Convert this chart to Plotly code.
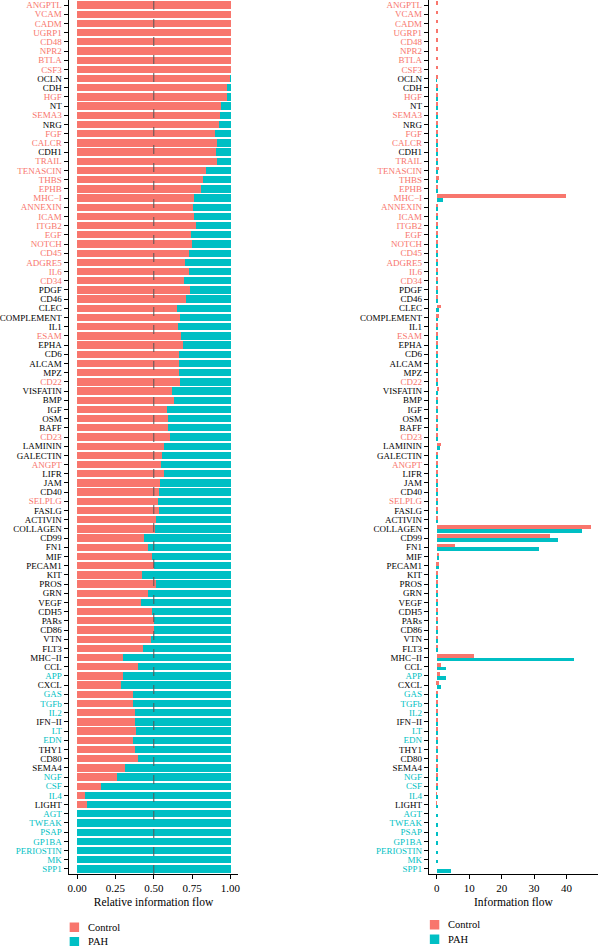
import plotly.graph_objects as go

pathways = ["ANGPTL","VCAM","CADM","UGRP1","CD48","NPR2","BTLA","CSF3","OCLN","CDH",
            "HGF","NT","SEMA3","NRG","FGF","CALCR","CDH1","TRAIL","TENASCIN","THBS",
            "EPHB","MHC\u2212I","ANNEXIN","ICAM","ITGB2","EGF","NOTCH","CD45","ADGRE5","IL6",
            "CD34","PDGF","CD46","CLEC","COMPLEMENT","IL1","ESAM","EPHA","CD6","ALCAM",
            "MPZ","CD22","VISFATIN","BMP","IGF","OSM","BAFF","CD23","LAMININ","GALECTIN",
            "ANGPT","LIFR","JAM","CD40","SELPLG","FASLG","ACTIVIN","COLLAGEN","CD99","FN1",
            "MIF","PECAM1","KIT","PROS","GRN","VEGF","CDH5","PARs","CD86","VTN",
            "FLT3","MHC\u2212II","CCL","APP","CXCL","GAS","TGFb","IL2","IFN\u2212II","LT",
            "EDN","THY1","CD80","SEMA4","NGF","CSF","IL4","LIGHT","AGT","TWEAK",
            "PSAP","GP1BA","PERIOSTIN","MK","SPP1"]

# C = enriched in Control, P = enriched in PAH, N = not significant
label_group = ["C","C","C","C","C","C","C","C","N","N",
               "C","N","C","N","C","C","N","C","C","C",
               "C","C","C","C","C","C","C","C","C","C",
               "C","N","N","N","N","N","C","N","N","N",
               "N","C","N","N","N","N","N","C","N","N",
               "C","N","N","N","C","N","N","N","N","N",
               "N","N","N","N","N","N","N","N","N","N",
               "N","N","N","P","N","P","P","P","N","P",
               "P","N","N","N","P","P","P","N","P","P",
               "P","P","P","P","P"]

rel_control = [1.0,1.0,1.0,1.0,1.0,1.0,1.0,1.0,0.998,0.976,
               0.972,0.937,0.929,0.924,0.896,0.913,0.905,0.911,0.835,0.818,
               0.803,0.758,0.753,0.760,0.775,0.740,0.749,0.727,0.701,0.727,
               0.697,0.734,0.710,0.649,0.671,0.658,0.673,0.686,0.665,0.662,
               0.660,0.671,0.617,0.632,0.584,0.593,0.593,0.602,0.567,0.554,
               0.548,0.567,0.541,0.532,0.528,0.532,0.515,0.506,0.431,0.463,
               0.489,0.502,0.422,0.511,0.463,0.413,0.487,0.500,0.500,0.478,
               0.429,0.294,0.398,0.294,0.284,0.361,0.364,0.372,0.372,0.385,
               0.361,0.377,0.398,0.310,0.255,0.154,0.048,0.061,0.0,0.0,
               0.0,0.0,0.0,0.0,0.0]

flow_control = [0.15,0.15,0.15,0.15,0.15,0.15,0.15,0.15,0.15,0.15,
                0.2,0.15,0.2,0.15,0.25,0.2,0.15,0.2,0.5,0.5,
                0.2,39.8,0.4,0.4,0.45,0.2,0.2,0.3,0.2,0.2,
                0.2,0.15,0.15,1.1,0.5,0.2,0.2,0.15,0.15,0.15,
                0.15,0.15,0.7,0.15,0.15,0.15,0.15,0.15,1.1,0.3,
                0.15,0.15,0.15,0.15,0.15,0.12,0.12,47.4,34.7,5.5,
                0.7,0.6,0.15,0.15,0.15,0.15,0.15,0.15,0.12,0.12,
                0.12,11.3,1.3,0.9,0.6,0.15,0.15,0.12,0.12,0.12,
                0.12,0.12,0.12,0.1,0.08,0.04,0.01,0.01,0.0,0.0,
                0.0,0.0,0.0,0.0,0.0]

flow_pah = [0.0,0.0,0.0,0.0,0.0,0.0,0.0,0.0,0.01,0.02,
            0.02,0.02,0.03,0.02,0.05,0.03,0.03,0.03,0.1,0.12,
            0.05,1.75,0.15,0.15,0.15,0.07,0.07,0.1,0.1,0.08,
            0.1,0.06,0.06,0.6,0.25,0.1,0.1,0.07,0.08,0.08,
            0.08,0.07,0.45,0.09,0.1,0.1,0.1,0.1,0.8,0.25,
            0.12,0.12,0.12,0.13,0.13,0.1,0.11,44.8,37.2,31.6,
            0.7,0.6,0.2,0.15,0.17,0.2,0.16,0.15,0.12,0.13,
            0.16,42.4,2.8,2.8,1.3,0.25,0.25,0.2,0.2,0.2,
            0.2,0.2,0.18,0.2,0.22,0.22,0.2,0.15,0.2,0.2,
            0.2,0.3,0.3,0.4,4.3]

rel_ticks = [0, 0.25, 0.5, 0.75, 1.0]
rel_ticktext = ["0.00", "0.25", "0.50", "0.75", "1.00"]
flow_ticks = [0, 10, 20, 30, 40]
legend_labels = ["Control", "PAH"]

RED = "#F8766D"
TEAL = "#00BFC4"
FONT = "Liberation Serif"
W, H = 600, 946
PLOT_BOTTOM = 874  # pixel row of x-axis line

rel_pah = [1 - v for v in rel_control]
group_color = {"C": RED, "P": TEAL, "N": "#000000"}
ticktext = [f'<span style="color:{group_color[g]}">{p}</span>' for p, g in zip(pathways, label_group)]

fig = go.Figure()
# left panel: stacked relative flow
fig.add_trace(go.Bar(y=pathways, x=rel_control, orientation="h", marker_color=RED,
                     marker_line_width=0, width=0.8, name=legend_labels[0],
                     xaxis="x", yaxis="y", showlegend=False))
fig.add_trace(go.Bar(y=pathways, x=rel_pah, base=rel_control, orientation="h", marker_color=TEAL,
                     marker_line_width=0, width=0.8, name=legend_labels[1],
                     xaxis="x", yaxis="y", showlegend=False))
# right panel: grouped absolute flow
fig.add_trace(go.Bar(y=pathways, x=flow_control, orientation="h", marker_color=RED,
                     marker_line_width=0, width=0.4, offset=-0.4, name=legend_labels[0],
                     xaxis="x2", yaxis="y2", showlegend=False))
fig.add_trace(go.Bar(y=pathways, x=flow_pah, orientation="h", marker_color=TEAL,
                     marker_line_width=0, width=0.4, offset=0.0, name=legend_labels[1],
                     xaxis="x2", yaxis="y2", showlegend=False))

n = len(pathways)
yaxis_common = dict(type="category", categoryorder="array", categoryarray=pathways,
                    range=[n - 0.45, -0.55], tickmode="array", tickvals=pathways, ticktext=ticktext,
                    showline=True, linecolor="black", linewidth=1, ticks="outside", ticklen=4,
                    tickcolor="black", showgrid=False, zeroline=False,
                    tickfont=dict(family=FONT, size=9, color="black"))
xaxis_common = dict(showline=True, linecolor="black", linewidth=1, ticks="outside", ticklen=4,
                    tickcolor="black", showgrid=False, zeroline=False,
                    tickfont=dict(family=FONT, size=11, color="black"))

# manual legends (paper coordinates)
def px_to_paper_y(py):
    return (PLOT_BOTTOM - py) / PLOT_BOTTOM

shapes = [dict(type="line", xref="x", yref="y domain", x0=0.5, x1=0.5, y0=0, y1=1,
               line=dict(color="#555555", width=1, dash="dash"), layer="above")]
annotations = []
legend_specs = [(69, 922.5, 85), (431, 920, 447)]  # square left px, first square top px, text left px
for sq_x, sq_y, tx in legend_specs:
    for i, (lab, col) in enumerate(zip(legend_labels, [RED, TEAL])):
        top = sq_y + i * 14.5
        shapes.append(dict(type="rect", xref="paper", yref="paper",
                           x0=sq_x / W, x1=(sq_x + 9.5) / W,
                           y0=px_to_paper_y(top + 9.5), y1=px_to_paper_y(top),
                           fillcolor=col, line=dict(width=0)))
        annotations.append(dict(xref="paper", yref="paper", x=tx / W, y=px_to_paper_y(top + 4.75),
                                xanchor="left", yanchor="middle", text=lab, showarrow=False,
                                font=dict(family=FONT, size=10.5, color="black")))

fig.update_layout(
    width=W, height=H,
    margin=dict(l=0, r=0, t=0, b=H - PLOT_BOTTOM),
    plot_bgcolor="white", paper_bgcolor="white",
    barmode="overlay", bargap=0, showlegend=False,
    font=dict(family=FONT, color="black"),
    xaxis=dict(domain=[68/600, 238.5/600], range=[-0.055, 1.051], tickvals=rel_ticks,
               ticktext=rel_ticktext, anchor="y",
               title=dict(text="Relative information flow", font=dict(family=FONT, size=11.5), standoff=4),
               **xaxis_common),
    yaxis=dict(anchor="x", **yaxis_common),
    xaxis2=dict(domain=[430/600, 1.0], range=[-2.45, 49.7], tickvals=flow_ticks, anchor="y2",
                title=dict(text="Information flow", font=dict(family=FONT, size=11.5), standoff=4),
                **xaxis_common),
    yaxis2=dict(anchor="x2", **yaxis_common),
    shapes=shapes,
    annotations=annotations,
)

fig.write_html("out.html")
